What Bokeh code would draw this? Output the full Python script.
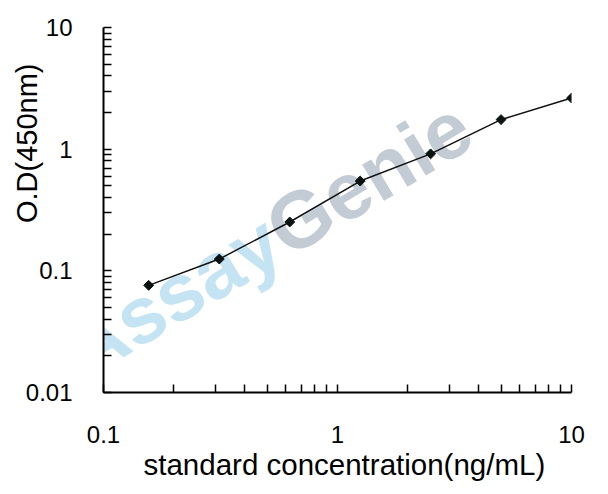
import math
from bokeh.plotting import figure
from bokeh.models import Range1d, FixedTicker, Label, Title
from bokeh.embed import file_html
from bokeh.resources import INLINE

# ---- data ----
concentration = [0.156, 0.3125, 0.625, 1.25, 2.5, 5.0, 10.0]
od450 = [0.076, 0.125, 0.252, 0.547, 0.915, 1.75, 2.63]

x_ticks = [0.1, 1, 10]
x_tick_labels = ["0.1", "1", "10"]
y_ticks = [0.01, 0.1, 1, 10]
y_tick_labels = ["0.01", "0.1", "1", "10"]

x_title = "standard concentration(ng/mL)"
y_title = "O.D(450nm)"
wm_part1 = "Assay"
wm_part2 = "Genie"

FONT = "Liberation Sans"

p = figure(width=604, height=490, x_axis_type="log", y_axis_type="log",
           x_range=Range1d(x_ticks[0], x_ticks[-1]),
           y_range=Range1d(y_ticks[0], y_ticks[-1]),
           output_backend="svg", toolbar_location=None,
           min_border_left=103, min_border_right=33,
           min_border_top=27, min_border_bottom=98)
p.outline_line_color = None
p.background_fill_color = "white"
p.border_fill_color = "white"
p.xgrid.visible = False
p.ygrid.visible = False

def minor(ticks):
    return [t * m for t in ticks[:-1] for m in range(2, 10)]

p.xaxis.ticker = FixedTicker(ticks=x_ticks, minor_ticks=minor(x_ticks))
p.yaxis.ticker = FixedTicker(ticks=y_ticks, minor_ticks=minor(y_ticks))
p.xaxis.major_label_overrides = {t: l for t, l in zip(x_ticks, x_tick_labels)}
p.yaxis.major_label_overrides = {t: l for t, l in zip(y_ticks, y_tick_labels)}

for ax in (p.xaxis, p.yaxis):
    ax.axis_line_width = 2
    ax.axis_line_color = "black"
    ax.major_tick_in = 8
    ax.major_tick_out = 0
    ax.minor_tick_in = 8
    ax.minor_tick_out = 0
    ax.major_tick_line_width = 1.5
    ax.minor_tick_line_width = 1.5
    ax.major_tick_line_color = "black"
    ax.minor_tick_line_color = "black"
    ax.major_label_text_font = FONT
    ax.major_label_text_font_size = "24px"
    ax.major_label_text_color = "black"
p.xaxis.major_label_standoff = 33
p.yaxis.major_label_standoff = 31

# watermark (behind data)
wm_size = 80
ang = math.radians(31)
wx0, wy0 = -32, 36
wm1 = Label(x=wx0, y=wy0, x_units="screen", y_units="screen", text=wm_part1,
            angle=ang, text_font=FONT, text_font_style="bold",
            text_font_size=f"{wm_size}px", text_color="#c4e4f4",
            text_align="left", text_baseline="alphabetic", level="underlay")
adv = 2.946 * wm_size
wm2 = Label(x=wx0 + adv * math.cos(ang), y=wy0 + adv * math.sin(ang),
            x_units="screen", y_units="screen", text=wm_part2,
            angle=ang, text_font=FONT, text_font_style="bold",
            text_font_size=f"{wm_size}px", text_color="#c3cbd5",
            text_align="left", text_baseline="alphabetic", level="underlay")
p.add_layout(wm1)
p.add_layout(wm2)

p.line(concentration, od450, line_color="#111111", line_width=1.5)
p.scatter(concentration, od450, marker="square", size=7, angle=math.pi / 4,
          fill_color="#0a1212", line_color="#0a1212")

xt = Title(text=x_title, align="left", offset=40, standoff=0,
           text_font=FONT, text_font_size="29.5px", text_font_style="normal",
           text_color="black")
p.add_layout(xt, "below")
yt = Title(text=y_title, align="right", offset=36, standoff=-40,
           vertical_align="bottom",
           text_font=FONT, text_font_size="29px", text_font_style="normal",
           text_color="black")
p.add_layout(yt, "left")

open("out.html", "w").write(file_html(p, INLINE))
